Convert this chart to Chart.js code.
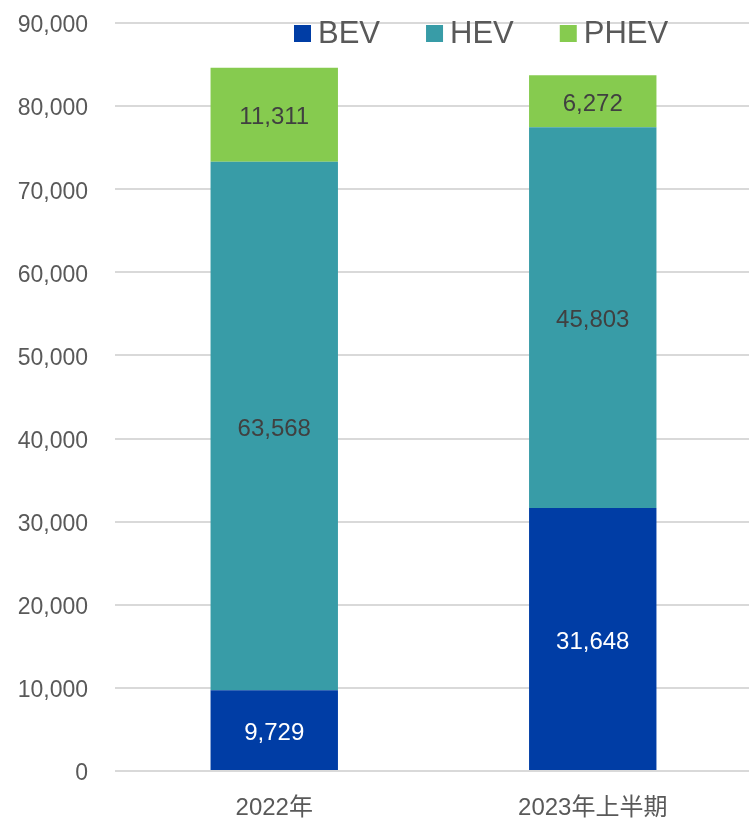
<!DOCTYPE html>
<html lang="ja">
<head>
<meta charset="utf-8">
<title>BEV / HEV / PHEV</title>
<script src="https://cdn.jsdelivr.net/npm/chart.js@4.4.1/dist/chart.umd.min.js"></script>
<style>
  html, body { margin: 0; padding: 0; background: #fff; }
  .wrap { width: 749px; height: 820px; overflow: hidden; }
  canvas { display: block; }
</style>
</head>
<body>
<div class="wrap">
  <canvas id="myChart" width="752" height="820"></canvas>
</div>
<script>
// Данные

const categories = ['2022年', '2023年上半期']
const bev = [9729, 31648]
const hev = [63568, 45803]
const phev = [11311, 6272]
const yTicks = [0, 10000, 20000, 30000, 40000, 50000, 60000, 70000, 80000, 90000]

const FONT = '"Liberation Sans", Arial, "Noto Sans CJK JP", sans-serif'
const GREY = '#595959'

// Подписи значений в центре сегментов
const valueLabels = {
    id: 'valueLabels',
    afterDatasetsDraw(chart) {
        const ctx = chart.ctx
        ctx.save()
        ctx.font = '24px ' + FONT
        ctx.textAlign = 'center'
        ctx.textBaseline = 'middle'
        chart.data.datasets.forEach((ds, i) => {
            const meta = chart.getDatasetMeta(i)
            meta.data.forEach((bar, j) => {
                const p = bar.getProps(['x', 'y', 'base'], true)
                ctx.fillStyle = ds.labelColor
                ctx.fillText(ds.data[j].toLocaleString('en-US'), p.x, (p.y + p.base) / 2 + 3)
            })
        })
        ctx.restore()
    }
}

// Легенда поверх области графика
const topLegend = {
    id: 'topLegend',
    afterDraw(chart) {
        const ctx = chart.ctx
        ctx.save()
        ctx.font = '31px ' + FONT
        ctx.textBaseline = 'middle'
        let x = 294
        const y = 33
        chart.data.datasets.forEach(ds => {
            ctx.fillStyle = ds.backgroundColor
            ctx.fillRect(x, y - 8, 17, 17)
            ctx.fillStyle = GREY
            ctx.textAlign = 'left'
            ctx.fillText(ds.label, x + 24, y + 1)
            x += 24 + ctx.measureText(ds.label).width + 46
        })
        ctx.restore()
    }
}

const ctx = document.getElementById('myChart').getContext('2d')

const myChart = new Chart(ctx, {
    type: 'bar',
    data: {
        labels: categories,
        datasets: [
            { label: 'BEV', data: bev, backgroundColor: '#003DA5', labelColor: '#ffffff' },
            { label: 'HEV', data: hev, backgroundColor: '#389CA7', labelColor: '#404040' },
            { label: 'PHEV', data: phev, backgroundColor: '#86CB4F', labelColor: '#404040' }
        ]
    },
    options: {
        responsive: false,
        animation: false,
        layout: { padding: { top: 23, right: 0, left: 0, bottom: 0 } },
        datasets: {
            bar: { categoryPercentage: 1, barPercentage: 0.4, borderWidth: 0 }
        },
        plugins: {
            legend: { display: false },
            tooltip: { enabled: false }
        },
        scales: {
            x: {
                stacked: true,
                grid: { display: false, drawTicks: false },
                border: { display: false },
                ticks: {
                    color: GREY,
                    font: { family: FONT, size: 24 },
                    padding: 23
                },
                afterFit: s => { s.height = 49 }
            },
            y: {
                stacked: true,
                min: 0,
                max: 90000,
                afterBuildTicks: s => { s.ticks = yTicks.map(v => ({ value: v })) },
                grid: { color: '#d9d9d9', lineWidth: 2, drawTicks: false },
                border: { display: false },
                ticks: {
                    color: GREY,
                    font: { family: FONT, size: 23 },
                    padding: 27,
                    labelOffset: 3,
                    callback: v => v.toLocaleString('en-US')
                },
                // ширина оси фиксирована, отступ сверху задаёт layout
                afterFit: s => {
                    s.width = 115
                    s.paddingTop = 0
                    s.paddingBottom = 0
                }
            }
        }
    },
    plugins: [valueLabels, topLegend]
})
</script>
</body>
</html>
